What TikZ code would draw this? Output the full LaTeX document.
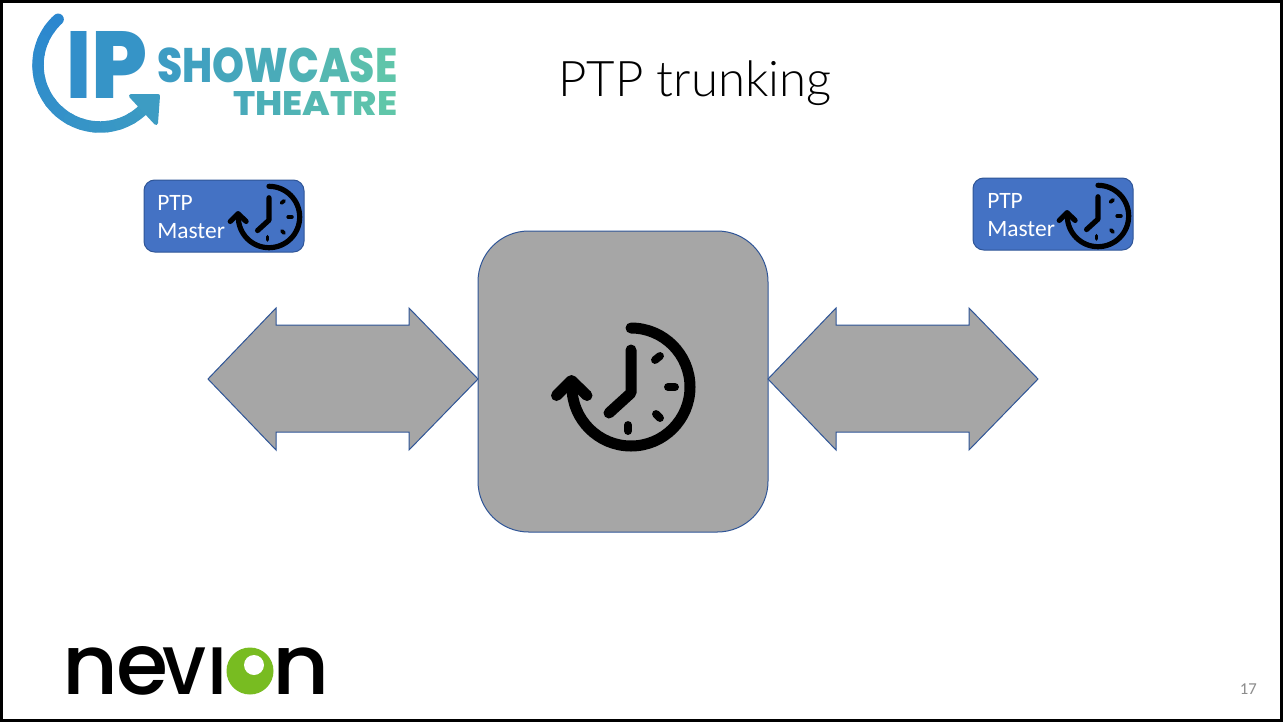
\documentclass[tikz,border=0pt]{standalone}
\usepackage{fontspec}
\setmainfont{Carlito}
\newfontfamily\titlefont{Lato Light}
\newfontfamily\logofont{Poppins ExtraBold}
\newfontfamily\nevfont{Poppins Medium}
\usetikzlibrary{calc}
\definecolor{boxblue}{HTML}{4472C4}
\definecolor{edgeblue}{HTML}{2F5597}
\definecolor{midgrey}{HTML}{A6A6A6}
\definecolor{numgrey}{HTML}{8C8C8C}
\definecolor{nevgreen}{HTML}{78BC21}
\definecolor{logoA}{HTML}{2B87CF}
\definecolor{logoB}{HTML}{62C8A8}
\tikzset{
  masterbox/.style={draw=edgeblue,line width=.75pt,fill=boxblue,rounded corners=8pt,minimum width=120pt,minimum height=54pt,inner sep=0pt},
  hubbox/.style={draw=edgeblue,line width=.75pt,fill=midgrey,rounded corners=38pt,minimum width=217.5pt,minimum height=225.75pt,inner sep=0pt},
  duplex/.style={draw=edgeblue,line width=.75pt,fill=midgrey,line join=miter},
  lbl/.style={anchor=base west,inner sep=0pt,text=white,font=\fontsize{17.6}{20}\selectfont},
  logotxt/.style={anchor=south west,inner sep=0pt},
  nevtxt/.style={anchor=south west,inner sep=0pt,text=black},
}
% centre x, centre y, scale, line width
\newcommand{\clockicon}[4]{%
  \begin{scope}[shift={(#1,#2)},scale=#3,line width=#4,line cap=round,line join=round,draw=black]
    \draw (0,-59) arc[start angle=-90,end angle=180,radius=59];
    \draw (-74.5,8.5) -- (-59.5,-6.5) -- (-44,8.5);
    \draw (0,-37) -- (0,6) -- (-22,26);
    \draw[line width=.72*#4] (24,-27) -- (29,-31);
    \draw[line width=.72*#4] (37,0) -- (44,0);
    \draw[line width=.72*#4] (25,27) -- (29,31);
    \draw[line width=.72*#4] (-3,38) -- (-3,44);
  \end{scope}}
% left tip x, centre y
\newcommand{\duplexarrow}[2]{%
  \draw[duplex] (#1,#2) -- ++(68,-71) -- ++(0,17) -- ++(133,0) -- ++(0,-17) -- ++(69,71)
     -- ++(-69,71) -- ++(0,-18) -- ++(-133,0) -- ++(0,18) -- cycle;}
\begin{document}
\begin{tikzpicture}[x=.75pt,y=-.75pt]
\useasboundingbox (0,0) rectangle (1283,722);
\fill[white] (0,0) rectangle (1283,722);
\draw[black,line width=2.25pt] (1.5,1.5) rectangle (1281.5,720.2);

% logo: arc
\foreach \i in {0,...,15}{
  \pgfmathsetmacro{\pc}{100-\i*2}
  \pgfmathsetmacro{\sa}{-132.5-\i*12}
  \colorlet{segc}{logoA!\pc!logoB}
  \draw[segc,line width=8.6pt,line cap=round] ($(100,65)+(\sa:62)$) arc[start angle=\sa,delta angle=-12.5,radius=62];
}
\colorlet{segc}{logoA!68!logoB}
\fill[segc,draw=segc,line width=3pt,line join=round] (131,96) -- (158,96) -- (156,123) -- cycle;
\node[logotxt] (logoI) at (66.5,99) {\resizebox{18.75pt}{50.25pt}{\logofont\textcolor{logoA!88!logoB}{I}}};
\node[logotxt] (logoP) at (91,99) {\resizebox{42pt}{50.25pt}{\logofont\textcolor{logoA!80!logoB}{P}}};
\node[logotxt] (logoS) at (157,83.5) {\resizebox{180pt}{26pt}{\logofont
  \textcolor{logoA!68!logoB}{S}\textcolor{logoA!60!logoB}{H}\textcolor{logoA!52!logoB}{O}\textcolor{logoA!44!logoB}{W}\textcolor{logoA!34!logoB}{C}\textcolor{logoA!24!logoB}{A}\textcolor{logoA!14!logoB}{S}\textcolor{logoA!5!logoB}{E}}};
\node[logotxt] (logoT) at (233,116) {\resizebox{123pt}{18pt}{\logofont
  \textcolor{logoA!46!logoB}{T}\textcolor{logoA!39!logoB}{H}\textcolor{logoA!32!logoB}{E}\textcolor{logoA!25!logoB}{A}\textcolor{logoA!18!logoB}{T}\textcolor{logoA!10!logoB}{R}\textcolor{logoA!3!logoB}{E}}};

% title
\node[anchor=base west,inner sep=0pt] (title) at (558,96) {\resizebox{205pt}{!}{\titlefont PTP trunking}};

% master boxes
\node[masterbox] (masterL) at (224,216) {};
\node[masterbox] (masterR) at (1053,214) {};
\node[lbl] (masterLa) at (157,210) {PTP};
\node[lbl] (masterLb) at (157,238) {Master};
\node[lbl] (masterRa) at (987,208) {PTP};
\node[lbl] (masterRb) at (987,236) {Master};
\clockicon{269}{217}{.52}{3.9pt}
\clockicon{1098}{216}{.52}{3.9pt}

% hub and arrows
\node[hubbox] (hub) at (623,381.5) {};
\duplexarrow{208}{379}
\duplexarrow{768}{379}
\clockicon{631}{387}{1}{8.25pt}

% nevion
\node[nevtxt] (nevN) at (62,695) {\resizebox{42pt}{35pt}{\nevfont n}};
\node[nevtxt] (nevE) at (116,695.5) {\resizebox{39pt}{36pt}{\nevfont e}};
\node[nevtxt] (nevV) at (162,695) {\resizebox{33pt}{35pt}{\nevfont v}};
\node[nevtxt] (nevI) at (207,695) {\resizebox{15pt}{35pt}{\nevfont I}};
\fill[nevgreen] (250,671) circle[radius=23.5];
\fill[white] (254,665) circle[radius=10];
\node[nevtxt] (nevN2) at (272,695) {\resizebox{43pt}{35pt}{\nevfont n}};

% page number
\node[anchor=base east,inner sep=0pt,text=numgrey,font=\fontsize{12.5}{15}\selectfont] (pageno) at (1257,694) {17};
\end{tikzpicture}
\end{document}
